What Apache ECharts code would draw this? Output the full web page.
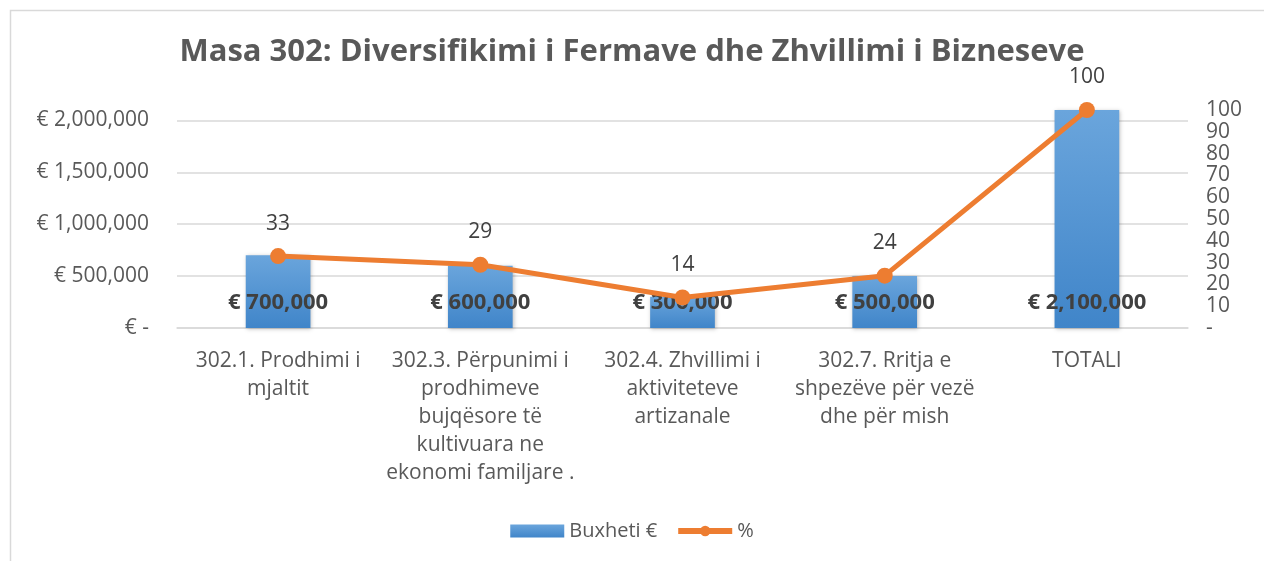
<!DOCTYPE html>
<html>
<head>
<meta charset="utf-8">
<script src="https://cdn.jsdelivr.net/npm/echarts@6/dist/echarts.min.js"></script>
<style>
  html, body { margin: 0; padding: 0; background: #fff; }
  #chart { width: 1264px; height: 561px; }
</style>
</head>
<body>
<div id="chart"></div>
<script>
// data
const categories = [
  '302.1. Prodhimi i\nmjaltit',
  '302.3. Përpunimi i\nprodhimeve\nbujqësore të\nkultivuara ne\nekonomi familjare .',
  '302.4. Zhvillimi i\naktiviteteve\nartizanale',
  '302.7. Rritja e\nshpezëve për vezë\ndhe për mish',
  'TOTALI'
];
const budget = [700000, 600000, 300000, 500000, 2100000];
const percent = [33, 29, 14, 24, 100];

const FONT = '"Open Sans", "Noto Sans", sans-serif';
const GREY = '#595959';

function fmtEuro(v) {
  if (v === 0) return '€ -';
  return '€ ' + v.toLocaleString('en-US');
}

const chart = echarts.init(document.getElementById('chart'));

const option = {
  animation: false,
  textStyle: { fontFamily: FONT },
  graphic: [{
    type: 'rect',
    shape: { x: 10.5, y: 10.5, width: 1300, height: 600 },
    style: { fill: 'none', stroke: '#d9d9d9', lineWidth: 1.5 },
    silent: true
  }],
  title: {
    text: 'Masa 302: Diversifikimi i Fermave dhe Zhvillimi i Bizneseve',
    left: 'center',
    top: 32,
    textStyle: { fontFamily: FONT, fontSize: 31, fontWeight: 'bold', color: GREY }
  },
  legend: {
    bottom: 15,
    left: 'center',
    itemGap: 18,
    itemWidth: 54,
    itemHeight: 13,
    textStyle: { fontFamily: FONT, fontSize: 20, color: GREY },
    data: [
      { name: 'Buxheti €', icon: 'rect' },
      { name: '%', lineStyle: { width: 6 } }
    ]
  },
  grid: { left: 177, right: 76, top: 110, height: 218 },
  xAxis: {
    type: 'category',
    data: categories,
    axisLine: { lineStyle: { color: '#d9d9d9', width: 1.5 } },
    axisTick: { show: false },
    axisLabel: {
      interval: 0,
      margin: 19,
      color: GREY,
      fontFamily: FONT,
      fontSize: 21,
      lineHeight: 28
    }
  },
  yAxis: [{
    type: 'value',
    min: 0,
    max: 2100000,
    interval: 500000,
    axisLine: { show: false },
    axisTick: { show: false },
    splitLine: { showMaxLine: false, lineStyle: { color: '#d9d9d9', width: 1.5 } },
    axisLabel: {
      showMaxLabel: false,
      margin: 28,
      color: GREY,
      fontFamily: FONT,
      fontSize: 21,
      formatter: fmtEuro
    }
  }, {
    type: 'value',
    min: 0,
    max: 100,
    interval: 10,
    axisLine: { show: false },
    axisTick: { show: false },
    splitLine: { show: false },
    axisLabel: {
      margin: 18,
      color: GREY,
      fontFamily: FONT,
      fontSize: 21,
      formatter: v => v === 0 ? '-' : String(v)
    }
  }],
  series: [{
    name: 'Buxheti €',
    type: 'bar',
    data: budget,
    barWidth: '32%',
    itemStyle: {
      color: new echarts.graphic.LinearGradient(0, 0, 0, 1, [
        { offset: 0, color: '#6aa5dc' },
        { offset: 1, color: '#4085c9' }
      ]),
      shadowColor: 'rgba(0,0,0,0.25)',
      shadowBlur: 4,
      shadowOffsetX: 1,
      shadowOffsetY: 1
    },
    label: {
      show: true,
      position: 'insideBottom',
      distance: 14,
      color: '#404040',
      fontFamily: FONT,
      fontSize: 22,
      fontWeight: 'bold',
      formatter: p => fmtEuro(p.value)
    },
    z: 2
  }, {
    name: '%',
    type: 'line',
    yAxisIndex: 1,
    data: percent,
    symbol: 'circle',
    symbolSize: 16,
    lineStyle: { color: '#ED7D31', width: 5 },
    itemStyle: { color: '#ED7D31' },
    label: {
      show: true,
      position: 'top',
      distance: 14,
      color: '#404040',
      fontFamily: FONT,
      fontSize: 21
    },
    z: 3
  }]
};

chart.setOption(option);
</script>
</body>
</html>
